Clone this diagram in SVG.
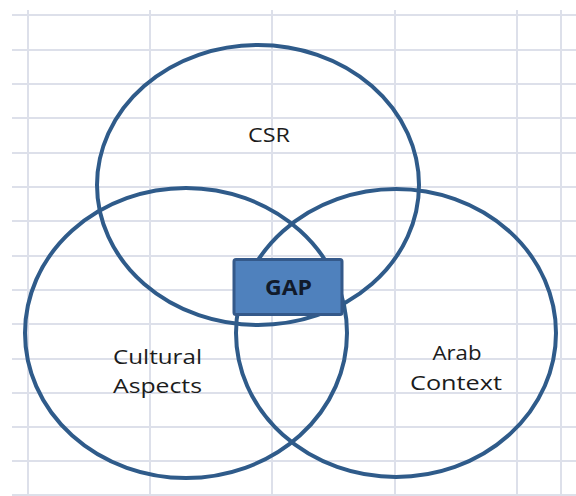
<svg xmlns="http://www.w3.org/2000/svg" width="576" height="496" viewBox="0 0 576 496">
  <style>
    .grid line { stroke: #dde0ea; stroke-width: 2; }
    .set { fill: none; stroke: #2f5b8a; stroke-width: 4; }
    .label { font-family: "Open Sans", "Liberation Sans", sans-serif; font-size: 20px; fill: #1c1c1c; text-anchor: middle; }
    .gap-box { fill: #4f81bd; stroke: #34598a; stroke-width: 3; }
    .gap-text { font-family: "Open Sans", "Liberation Sans", sans-serif; font-size: 21px; font-weight: bold; fill: #111a2a; text-anchor: middle; }
  </style>
  <rect width="576" height="496" fill="#ffffff"/>
  <!-- worksheet grid -->
  <g class="grid">
    <line x1="12" y1="15" x2="576" y2="15"/>
    <line x1="12" y1="50" x2="576" y2="50"/>
    <line x1="12" y1="84" x2="576" y2="84"/>
    <line x1="12" y1="118" x2="576" y2="118"/>
    <line x1="12" y1="153" x2="576" y2="153"/>
    <line x1="12" y1="187" x2="576" y2="187"/>
    <line x1="12" y1="221" x2="576" y2="221"/>
    <line x1="12" y1="256" x2="576" y2="256"/>
    <line x1="12" y1="290" x2="576" y2="290"/>
    <line x1="12" y1="324" x2="576" y2="324"/>
    <line x1="12" y1="359" x2="576" y2="359"/>
    <line x1="12" y1="393" x2="576" y2="393"/>
    <line x1="12" y1="427" x2="576" y2="427"/>
    <line x1="12" y1="461" x2="576" y2="461"/>
    <line x1="12" y1="495" x2="576" y2="495"/>
    <line x1="28" y1="10" x2="28" y2="496"/>
    <line x1="150" y1="10" x2="150" y2="496"/>
    <line x1="272" y1="10" x2="272" y2="496"/>
    <line x1="395" y1="10" x2="395" y2="496"/>
    <line x1="517" y1="10" x2="517" y2="496"/>
    <line x1="561" y1="10" x2="561" y2="496"/>
  </g>
  <g id="csr">
    <ellipse class="set" cx="258" cy="185" rx="161" ry="140"/>
    <text class="label" x="269" y="142" textLength="42" lengthAdjust="spacingAndGlyphs">CSR</text>
  </g>
  <g id="cultural-aspects">
    <ellipse class="set" cx="186" cy="333" rx="161" ry="145"/>
    <text class="label" x="157.5" y="364" textLength="89" lengthAdjust="spacingAndGlyphs">Cultural</text>
    <text class="label" x="157.5" y="393" textLength="89" lengthAdjust="spacingAndGlyphs">Aspects</text>
  </g>
  <g id="arab-context">
    <ellipse class="set" cx="396" cy="333" rx="160" ry="144"/>
    <text class="label" x="457" y="360" textLength="49" lengthAdjust="spacingAndGlyphs">Arab</text>
    <text class="label" x="456" y="390" textLength="92" lengthAdjust="spacingAndGlyphs">Context</text>
  </g>
  <g id="gap">
    <rect class="gap-box" x="234" y="259.5" width="108" height="55" rx="2"/>
    <text class="gap-text" x="288.5" y="295" textLength="47" lengthAdjust="spacingAndGlyphs">GAP</text>
  </g>
</svg>
